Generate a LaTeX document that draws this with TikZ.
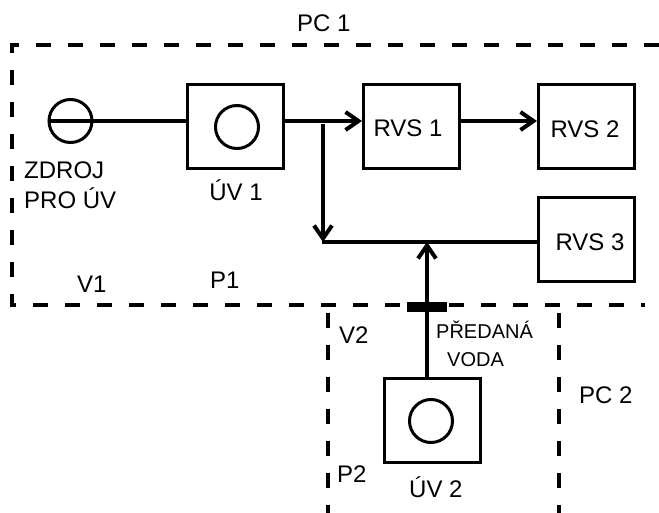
\documentclass[tikz,border=0pt]{standalone}
\usepackage{fontspec}
\setmainfont{Liberation Sans}
\usetikzlibrary{arrows.meta}
\begin{document}
\begin{tikzpicture}[x=1pt,y=-1pt,
  box/.style={draw, line width=3pt, minimum width=96pt, minimum height=84pt, inner sep=0pt},
  valve/.style={circle, draw, line width=3pt, minimum size=43pt, inner sep=0pt},
  pipe/.style={line width=4pt},
  flow/.style={pipe, -{Straight Barb[length=13pt,width=18pt]}},
  lbl/.style={font=\fontsize{24}{28}\selectfont, inner sep=0pt},
  slbl/.style={font=\fontsize{20}{24}\selectfont, inner sep=0pt},
  zone/.style={line width=4pt, dash pattern=on 15pt off 17pt}]
\useasboundingbox (0,0) rectangle (659,513);
% zones
\draw[zone] (659,45) -- (12,45) -- (12,305) -- (645,305);
\draw[zone] (328,313) -- (328,513);
\draw[zone] (559,313) -- (559,513);
% components
\node[valve] (src) at (70.5,121) {};
\node[box] (uv1) at (235.5,126.5) {};
\node[valve] (c1) at (237,127) {};
\node[box] (rvs1) at (411.5,126.5) {};
\node[box] (rvs2) at (586.5,126.5) {};
\node[box] (rvs3) at (586.5,240) {};
\node[lbl, anchor=base] (t1) at (408,137) {RVS 1};
\node[lbl, anchor=base] (t2) at (585,138) {RVS 2};
\node[lbl, anchor=base] (t3) at (590,251) {RVS 3};
\node[box] (uv2) at (432,420) {};
\node[valve] (c2) at (431,421) {};
% junctions
\coordinate (j1) at (323,121);
\coordinate (j2) at (323,242);
\coordinate (j3) at (427,242);
% connectors
\draw[pipe] (src.west) -- (src.west -| uv1.west);
\draw[pipe] (uv1.east |- j1) -- (j1);
\draw[flow] (j1) -- (rvs1.west |- j1);
\draw[flow] (rvs1.east |- j1) -- (rvs2.west |- j1);
\draw[flow] ([yshift=-3pt]j1) -- (j2);
\draw[pipe] ([xshift=-1.5pt]j2) -- (rvs3.west |- j2);
\draw[flow] (j3 |- uv2.north) -- (j3);
\node[fill=black, minimum width=40pt, minimum height=10pt, inner sep=0pt] (bar) at (427,307) {};
% labels
\node[lbl, anchor=base west] (pc1) at (297,32) {PC 1};
\node[lbl, anchor=base west] (zdroj) at (24,179) {ZDROJ};
\node[lbl, anchor=base west] (pro) at (24,209) {PRO ÚV};
\node[lbl, anchor=base] (luv1) at (236,201) {ÚV 1};
\node[lbl, anchor=base west] (v1) at (77,293) {V1};
\node[lbl, anchor=base west] (p1) at (210,288) {P1};
\node[lbl, anchor=base west] (v2) at (339,343) {V2};
\node[slbl, anchor=base west] (pred) at (436,338) {PŘEDANÁ};
\node[slbl, anchor=base west] (voda) at (447,366) {VODA};
\node[lbl, anchor=base west] (pc2) at (579,403) {PC 2};
\node[lbl, anchor=base west] (p2) at (337,482) {P2};
\node[lbl, anchor=base west] (luv2) at (409,497) {ÚV 2};
\end{tikzpicture}
\end{document}
